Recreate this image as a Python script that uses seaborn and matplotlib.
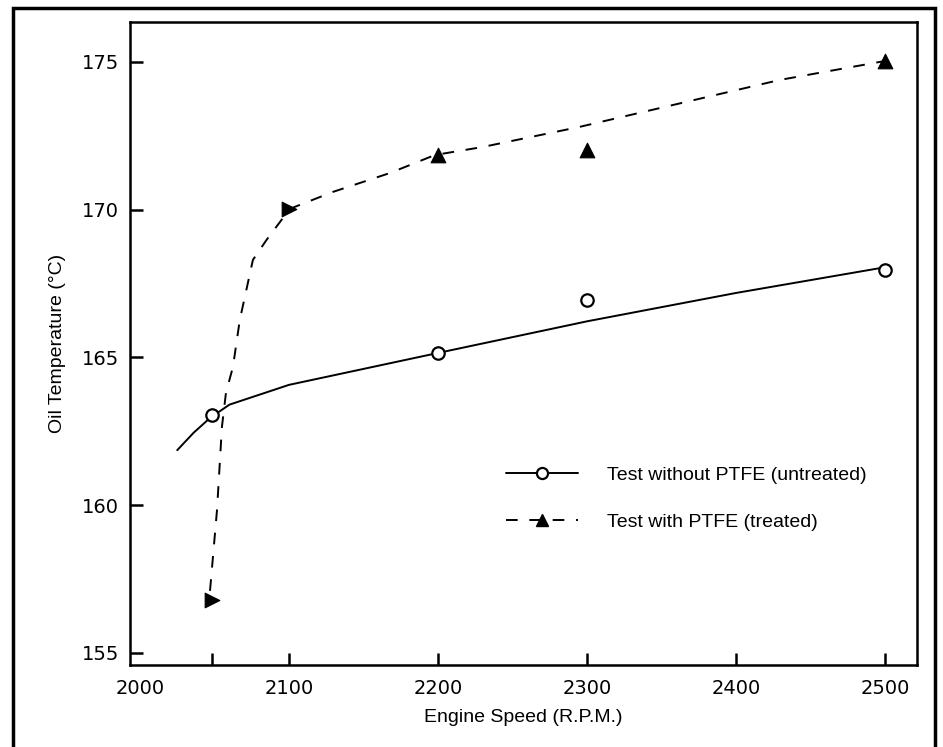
import numpy as np
import pandas as pd
import matplotlib
matplotlib.use("Agg")
import matplotlib.pyplot as plt
from matplotlib.lines import Line2D
from matplotlib.patches import Rectangle
import seaborn as sns

# measured points
untreated_rpm = [2048, 2200, 2300, 2500]
untreated_temp = [163.05, 165.15, 166.95, 167.96]
treated_rpm = [2048, 2100, 2200, 2300, 2500]
treated_temp = [156.8, 170.03, 171.85, 172.02, 175.03]

# hand-drawn fit curves
untreated_fit_rpm = [2025, 2036, 2047, 2060, 2100, 2200, 2300, 2400, 2500]
untreated_fit_temp = [161.86, 162.45, 162.95, 163.4, 164.07, 165.15, 166.22, 167.18, 168.05]
treated_fit_rpm = [2047, 2051.7, 2055, 2057.7, 2062.4, 2067, 2075.8, 2085, 2096, 2100.7,
                   2129.5, 2167.8, 2198, 2230, 2295, 2429.5, 2500]
treated_fit_temp = [157.1, 159.84, 162.65, 163.8, 164.68, 166.27, 168.3, 168.98, 169.72, 170.03,
                    170.6, 171.24, 171.85, 172.12, 172.8, 174.39, 175.03]

x_ticks = [2000, 2100, 2200, 2300, 2400, 2500]
y_ticks = [155, 160, 165, 170, 175]
labels = ['Test without PTFE (untreated)', 'Test with PTFE (treated)']

sns.set_theme(style='ticks')
plt.rcParams['font.family'] = ['Liberation Sans', 'DejaVu Sans']
plt.rcParams['font.size'] = 14
plt.rcParams['text.color'] = 'black'
plt.rcParams['axes.labelcolor'] = 'black'

fig = plt.figure(figsize=(9.43, 7.47), dpi=100)
ax = fig.add_axes([130 / 943, 1 - 665 / 747, 787 / 943, 643 / 747])

sns.lineplot(x=untreated_fit_rpm, y=untreated_fit_temp, ax=ax, color='black',
             linewidth=1.4, sort=False, legend=False)
sns.lineplot(x=treated_fit_rpm, y=treated_fit_temp, ax=ax, color='black',
             linewidth=1.4, sort=False, legend=False, dashes=False)
ax.lines[-1].set_dashes((6, 6))

sns.scatterplot(x=untreated_rpm, y=untreated_temp, ax=ax, marker='o', s=80,
                facecolor='white', edgecolor='black', linewidth=1.6, zorder=5)
sns.scatterplot(x=treated_rpm[:2], y=treated_temp[:2], ax=ax, marker='>', s=110,
                color='black', edgecolor='black', zorder=5)
sns.scatterplot(x=treated_rpm[2:], y=treated_temp[2:], ax=ax, marker='^', s=110,
                color='black', edgecolor='black', zorder=5)

ax.set_xlim(1993.3, 2521.5)
ax.set_ylim(154.59, 176.35)
ax.set_xticks(x_ticks)
ax.set_xticks([2048], minor=True)
ax.set_yticks(y_ticks)
ax.tick_params(axis='both', which='both', direction='in', length=9, width=1.8,
               colors='black', labelsize=14)
ax.tick_params(axis='x', pad=10)
ax.tick_params(axis='y', pad=8)
ax.xaxis.get_major_ticks()[0].tick1line.set_visible(False)
for lab in ax.get_xticklabels() + ax.get_yticklabels():
    lab.set_family('DejaVu Sans')
for sp in ax.spines.values():
    sp.set_linewidth(1.8)
    sp.set_color('black')

ax.set_xlabel('Engine Speed (R.P.M.)', fontsize=14, labelpad=8)
ax.set_ylabel('Oil Temperature (°C)', fontsize=14, labelpad=11)

handles = [
    Line2D([0], [0], color='black', lw=1.4, marker='o', markersize=8,
           markerfacecolor='white', markeredgewidth=1.6),
    Line2D([0], [0], color='black', lw=1.4, dashes=(6, 6), marker='^', markersize=9),
]
ax.legend(handles, labels, loc='center left', bbox_to_anchor=(0.466, 0.259),
          frameon=False, borderpad=0, handlelength=3.7, handletextpad=1.45,
          labelspacing=1.5, fontsize=14)

# page frame around the figure
fig.patches.append(Rectangle((13 / 943, -0.05), 922 / 943, 1.05 - 8 / 747,
                             transform=fig.transFigure, fill=False,
                             edgecolor='black', linewidth=2.5))

fig.savefig('out.png', dpi=100)
